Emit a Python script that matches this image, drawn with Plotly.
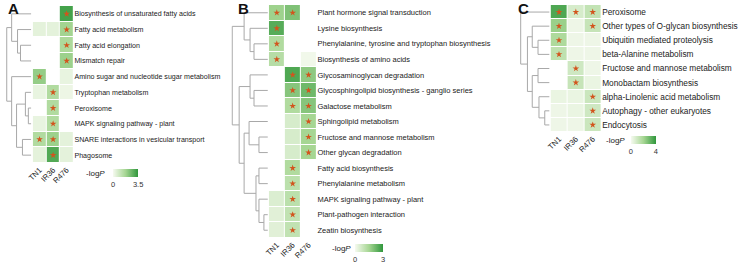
import plotly.graph_objects as go

NaN = None
cols = ["TN1", "IR36", "R476"]

# ---------------- Panel A ----------------
a_rows = ["Biosynthesis of unsaturated fatty acids", "Fatty acid metabolism", "Fatty acid elongation",
          "Mismatch repair", "Amino sugar and nucleotide sugar metabolism", "Tryptophan metabolism",
          "Peroxisome", "MAPK signaling pathway - plant", "SNARE interactions in vesicular transport",
          "Phagosome"]
a_vals = [[NaN, NaN, 3.2], [0.4, 0.4, 1.8], [NaN, NaN, 1.6], [NaN, NaN, 1.9], [2.0, NaN, 0.3],
          [0.3, 1.5, 0.2], [NaN, 1.5, NaN], [0.3, 1.5, NaN], [1.5, 1.9, 0.4], [0.4, 3.0, 0.4]]
a_sig = [[0, 0, 1], [0, 0, 1], [0, 0, 1], [0, 0, 1], [1, 0, 0],
         [0, 1, 0], [0, 1, 0], [0, 1, 0], [1, 1, 0], [0, 1, 0]]
a_link = [(2, 3, 11), (1, 10, 14), (0, 11, 20), (6, 7, 3), (5, 13, 6), (8, 9, 9),
          (14, 15, 15), (4, 16, 20), (12, 17, 25)]
a_max = 3.5
a_ticks = ["0", "3.5"]

# ---------------- Panel B ----------------
b_rows = ["Plant hormone signal transduction", "Lysine biosynthesis",
          "Phenylalanine, tyrosine and tryptophan biosynthesis", "Biosynthesis of amino acids",
          "Glycosaminoglycan degradation", "Glycosphingolipid biosynthesis - ganglio series",
          "Galactose metabolism", "Sphingolipid metabolism", "Fructose and mannose metabolism",
          "Other glycan degradation", "Fatty acid biosynthesis", "Phenylalanine metabolism",
          "MAPK signaling pathway - plant", "Plant-pathogen interaction", "Zeatin biosynthesis"]
b_vals = [[1.6, 2.0, NaN], [2.5, NaN, NaN], [1.3, NaN, NaN], [1.2, NaN, 0.1], [NaN, 2.6, 1.8],
          [NaN, 1.9, 2.2], [NaN, 1.3, 1.9], [NaN, 0.6, 1.5], [NaN, 0.6, 1.5], [NaN, 0.6, 1.5],
          [NaN, 1.3, NaN], [NaN, 1.1, NaN], [0.5, 1.1, NaN], [0.4, 1.0, NaN], [0.4, 1.0, NaN]]
b_sig = [[1, 1, 0], [1, 0, 0], [1, 0, 0], [1, 0, 0], [0, 1, 1], [0, 1, 1], [0, 1, 1], [0, 0, 1],
         [0, 0, 1], [0, 0, 1], [0, 1, 0], [0, 1, 0], [0, 1, 0], [0, 1, 0], [0, 1, 0]]
b_link = [(2, 3, 14), (1, 15, 18), (0, 16, 24), (5, 6, 14), (4, 18, 18), (8, 9, 9), (7, 20, 19),
          (10, 11, 9), (13, 14, 4), (12, 23, 9), (22, 24, 12), (21, 25, 24), (19, 26, 29),
          (17, 27, 36)]
b_max = 3
b_ticks = ["0", "3"]

# ---------------- Panel C ----------------
c_rows = ["Peroxisome", "Other types of O-glycan biosynthesis", "Ubiquitin mediated proteolysis",
          "beta-Alanine metabolism", "Fructose and mannose metabolism", "Monobactam biosynthesis",
          "alpha-Linolenic acid metabolism", "Autophagy - other eukaryotes", "Endocytosis"]
c_vals = [[3.5, 0.8, 1.3], [2.2, 0.2, 1.2], [1.8, 0.2, 0.2], [1.4, 0.2, 0.2], [NaN, 1.0, 0.2],
          [NaN, 1.2, 0.3], [0.3, 0.3, 1.1], [0.2, 0.3, 1.0], [0.2, 0.2, 1.1]]
c_sig = [[1, 1, 1], [1, 0, 1], [1, 0, 0], [1, 0, 0], [0, 1, 0], [0, 1, 0], [0, 0, 1], [0, 0, 1],
         [0, 0, 1]]
c_link = [(2, 3, 12), (1, 9, 18), (4, 5, 12), (7, 8, 5), (6, 12, 11), (11, 13, 18), (10, 14, 23),
          (0, 15, 30)]
c_max = 4
c_ticks = ["0", "4"]

W, H = 744, 263
FONT = "Liberation Sans, Arial, sans-serif"
CSCALE = [[0, "#f6faf0"], [0.5, "#a6d693"], [1, "#30973c"]]


def fx(p):
    return p / W


def fy(p):
    return 1 - p / H


def dendro_lines(link, n):
    pos = {i: (float(i), 0.0) for i in range(n)}
    xs, ys = [], []
    for k, (a, b, h) in enumerate(link):
        ya, ha = pos[a]
        yb, hb = pos[b]
        xs += [ha, h, h, hb, None]
        ys += [ya, ya, yb, yb, None]
        pos[n + k] = ((ya + yb) / 2, h)
    return xs, ys


panels = [
    dict(rows=a_rows, vals=a_vals, sig=a_sig, link=a_link, zmax=a_max, ticks=a_ticks,
         hx=(27, 68), hy=(6, 163), dx=(0, 25.5), fs=7.1, cb=(108, 169, 25), title_x=102,
         letter="A", lx=7.5, ly=9),
    dict(rows=b_rows, vals=b_vals, sig=b_sig, link=b_link, zmax=b_max, ticks=b_ticks,
         hx=(265, 313), hy=(5, 238), dx=(227, 264), fs=7.5, cb=(352, 244, 28), title_x=350,
         letter="B", lx=239, ly=9),
    dict(rows=c_rows, vals=c_vals, sig=c_sig, link=c_link, zmax=c_max, ticks=c_ticks,
         hx=(549, 600), hy=(5, 132), dx=(518, 548), fs=8.3, cb=(630, 136, 25), title_x=626,
         letter="C", lx=522, ly=8),
]

fig = go.Figure()
layout = {}
annotations = []
ax = 1
for p in panels:
    n = len(p["rows"])
    hxa, dxa = ax, ax + 1
    ax += 2
    hx_name = "x" if hxa == 1 else f"x{hxa}"
    hy_name = "y" if hxa == 1 else f"y{hxa}"
    dx_name, dy_name = f"x{dxa}", f"y{dxa}"
    cbx, cby, cbl = p["cb"]
    fig.add_trace(go.Heatmap(
        z=p["vals"], x=list(range(3)), y=list(range(n)), colorscale=CSCALE, zmin=0, zmax=p["zmax"],
        xgap=1, ygap=1, xaxis=hx_name, yaxis=hy_name, hoverongaps=False,
        colorbar=dict(orientation="h", x=fx(cbx), xanchor="left", y=fy(cby), yanchor="top",
                      len=cbl, lenmode="pixels", thickness=8, thicknessmode="pixels",
                      xpad=0, ypad=0, outlinewidth=0, tickvals=[0, p["zmax"]], ticktext=p["ticks"],
                      ticks="", tickfont=dict(size=7.5, color="#333333", family=FONT))))
    sx, sy = [], []
    for i, row in enumerate(p["sig"]):
        for j, s in enumerate(row):
            if s:
                sx.append(j)
                sy.append(i)
    fig.add_trace(go.Scatter(x=sx, y=sy, mode="markers", xaxis=hx_name, yaxis=hy_name,
                             marker=dict(symbol="star", size=5, color="#d2541d"),
                             showlegend=False, hoverinfo="skip"))
    lx_, ly_ = dendro_lines(p["link"], n)
    root = max(h for _, _, h in p["link"])
    fig.add_trace(go.Scatter(x=lx_, y=ly_, mode="lines", xaxis=dx_name, yaxis=dy_name,
                             line=dict(color="#a8a8a8", width=1), showlegend=False,
                             hoverinfo="skip"))
    k = "" if hxa == 1 else str(hxa)
    layout[f"xaxis{k}"] = dict(domain=[fx(p["hx"][0]), fx(p["hx"][1])], anchor=hy_name,
                               range=[-0.5, 2.5], tickvals=[0, 1, 2], ticktext=cols,
                               tickangle=-45, showgrid=False, zeroline=False, showline=False,
                               ticks="", tickfont=dict(size=7.8, color="#222222", family=FONT))
    layout[f"yaxis{k}"] = dict(domain=[fy(p["hy"][1]), fy(p["hy"][0])], anchor=hx_name,
                               range=[n - 0.5, -0.5], tickvals=list(range(n)), ticktext=p["rows"],
                               side="right", showgrid=False, zeroline=False, showline=False,
                               ticks="", tickfont=dict(size=p["fs"], color="#222222", family=FONT))
    layout[f"xaxis{dxa}"] = dict(domain=[fx(p["dx"][0]), fx(p["dx"][1])], anchor=dy_name,
                                 range=[root * 1.03, 0], visible=False)
    layout[f"yaxis{dxa}"] = dict(domain=[fy(p["hy"][1]), fy(p["hy"][0])], anchor=dx_name,
                                 range=[n - 0.5, -0.5], visible=False)
    annotations.append(dict(text="-log<i>P</i>", x=fx(p["title_x"]), y=fy(cby + 4), xref="paper",
                            yref="paper", xanchor="right", yanchor="middle", showarrow=False,
                            font=dict(size=8, color="#222222", family=FONT)))
    annotations.append(dict(text="<b>" + p["letter"] + "</b>", x=fx(p["lx"]), y=fy(p["ly"]),
                            xref="paper", yref="paper", xanchor="center", yanchor="middle",
                            showarrow=False, font=dict(size=15, color="#111111", family=FONT)))

fig.update_layout(width=W, height=H, margin=dict(l=0, r=0, t=0, b=0), plot_bgcolor="white",
                  paper_bgcolor="white", showlegend=False, annotations=annotations,
                  font=dict(family=FONT), **layout)
fig.write_html("out.html", config={"displayModeBar": False},
               post_script="document.body.style.margin='0px';"
                           "document.body.style.overflow='hidden';")
